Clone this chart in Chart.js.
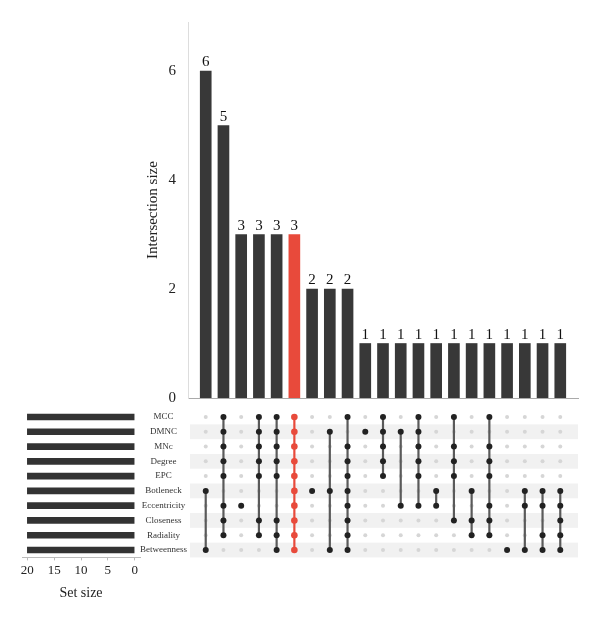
<!DOCTYPE html>
<html>
<head>
<meta charset="utf-8">
<script src="https://cdn.jsdelivr.net/npm/chart.js@4"></script>
<style>
body { margin: 0; background: #fff; }
#wrap { position: relative; width: 600px; height: 618px; }
canvas { position: absolute; }
</style>
</head>
<body>
<div id="wrap">
<canvas id="matrix" width="600" height="165" style="left:0;top:400px"></canvas>
<canvas id="bars" width="600" height="411" style="left:0;top:0"></canvas>
<canvas id="sets" width="200" height="210" style="left:0;top:400px"></canvas>
</div>
<script>
const sets = ['MCC', 'DMNC', 'MNc', 'Degree', 'EPC', 'Botleneck', 'Eccentricity', 'Closeness', 'Radiality', 'Betweenness'];
const setSizes = [20, 20, 20, 20, 20, 20, 20, 20, 20, 20];
const sizes = [6, 5, 3, 3, 3, 3, 2, 2, 2, 1, 1, 1, 1, 1, 1, 1, 1, 1, 1, 1, 1];
const combos = [
    ['Botleneck', 'Betweenness'],
    ['MCC', 'DMNC', 'MNc', 'Degree', 'EPC', 'Eccentricity', 'Closeness', 'Radiality'],
    ['Eccentricity'],
    ['MCC', 'DMNC', 'MNc', 'Degree', 'EPC', 'Closeness', 'Radiality'],
    ['MCC', 'DMNC', 'MNc', 'Degree', 'EPC', 'Closeness', 'Radiality', 'Betweenness'],
    ['MCC', 'DMNC', 'MNc', 'Degree', 'EPC', 'Botleneck', 'Eccentricity', 'Closeness', 'Radiality', 'Betweenness'],
    ['Botleneck'],
    ['DMNC', 'Botleneck', 'Betweenness'],
    ['MCC', 'MNc', 'Degree', 'EPC', 'Botleneck', 'Eccentricity', 'Closeness', 'Radiality', 'Betweenness'],
    ['DMNC'],
    ['MCC', 'DMNC', 'MNc', 'Degree', 'EPC'],
    ['DMNC', 'Eccentricity'],
    ['MCC', 'DMNC', 'MNc', 'Degree', 'EPC', 'Eccentricity'],
    ['Botleneck', 'Eccentricity'],
    ['MCC', 'MNc', 'Degree', 'EPC', 'Closeness'],
    ['Botleneck', 'Closeness', 'Radiality'],
    ['MCC', 'MNc', 'Degree', 'EPC', 'Eccentricity', 'Closeness', 'Radiality'],
    ['Betweenness'],
    ['Botleneck', 'Eccentricity', 'Betweenness'],
    ['Botleneck', 'Eccentricity', 'Radiality', 'Betweenness'],
    ['Botleneck', 'Eccentricity', 'Closeness', 'Radiality', 'Betweenness'],
];
const highlight = 5;
const ticksTop = [0, 2, 4, 6];
const ticksSet = [0, 5, 10, 15, 20];

const serif = "'Liberation Serif', 'DejaVu Serif', serif";
const dark = '#383838';
const red = '#e84a3b';

Chart.defaults.font.family = serif;
Chart.defaults.color = '#222';
Chart.defaults.animation = false;
Chart.defaults.plugins.legend.display = false;
Chart.defaults.plugins.tooltip.enabled = false;

// numbers above the bars
const barLabels = {
    id: 'barLabels',
    afterDatasetsDraw(chart) {
        const ctx = chart.ctx;
        ctx.save();
        ctx.font = '15px ' + serif;
        ctx.fillStyle = '#111';
        ctx.textAlign = 'center';
        ctx.textBaseline = 'bottom';
        chart.getDatasetMeta(0).data.forEach((bar, i) => {
            ctx.fillText(sizes[i], bar.x, bar.y - 1);
        });
        ctx.restore();
    },
};

new Chart(document.getElementById('bars'), {
    type: 'bar',
    data: {
        datasets: [
            {
                data: sizes.map((v, i) => ({ x: i, y: v })),
                backgroundColor: sizes.map((v, i) => (i === highlight ? red : dark)),
                barThickness: 11,
            },
        ],
    },
    options: {
        responsive: false,
        layout: { padding: { left: 140, right: 22, top: 22, bottom: 7 } },
        scales: {
            x: {
                type: 'linear',
                offset: false,
                min: -1,
                max: 21,
                ticks: { display: false },
                grid: { display: false },
                border: { color: '#aaa' },
                afterFit: (s) => {
                    s.height = 0;
                },
            },
            y: {
                min: 0,
                max: 6.9,
                afterBuildTicks: (s) => {
                    s.ticks = ticksTop.map((v) => ({ value: v }));
                },
                ticks: { padding: 4, font: { size: 15 } },
                grid: { display: false },
                border: { color: '#ddd' },
                title: { display: true, text: 'Intersection size', font: { size: 15 } },
                afterFit: (s) => {
                    s.width = 48;
                },
            },
        },
    },
    plugins: [barLabels],
});

// matrix of dots
const greyDots = [];
const onDots = [];
const redDots = [];
combos.forEach((c, i) => {
    sets.forEach((s, r) => {
        if (!c.includes(s)) greyDots.push({ x: i, y: r });
        else if (i === highlight) redDots.push({ x: i, y: r });
        else onDots.push({ x: i, y: r });
    });
});
const links = combos.map((c, i) => {
    const rows = c.map((s) => sets.indexOf(s));
    return {
        data: [
            { x: i, y: Math.min(...rows) },
            { x: i, y: Math.max(...rows) },
        ],
        showLine: true,
        borderColor: i === highlight ? red : '#5a5a5a',
        borderWidth: 2.2,
        pointRadius: 0,
        order: 1,
    };
});

const stripes = {
    id: 'stripes',
    beforeDatasetsDraw(chart) {
        const { ctx, chartArea, scales } = chart;
        ctx.save();
        ctx.fillStyle = '#f1f1f1';
        sets.forEach((s, r) => {
            if (r % 2 === 0) return;
            const a = scales.y.getPixelForValue(r - 0.5);
            const b = scales.y.getPixelForValue(r + 0.5);
            ctx.fillRect(chartArea.left + 2, Math.min(a, b), chartArea.right - chartArea.left - 2, Math.abs(b - a));
        });
        ctx.restore();
    },
};

new Chart(document.getElementById('matrix'), {
    type: 'scatter',
    data: {
        datasets: [
            { data: onDots, pointRadius: 3, backgroundColor: '#222', borderWidth: 0, order: 0 },
            { data: redDots, pointRadius: 3.3, backgroundColor: red, borderWidth: 0, order: 0 },
            ...links,
            { data: greyDots, pointRadius: 2, backgroundColor: '#d6d6d6', borderWidth: 0, order: 2 },
        ],
    },
    options: {
        responsive: false,
        layout: { padding: { left: 188, right: 22, top: 9.6, bottom: 7.6 } },
        scales: {
            x: { type: 'linear', min: -1, max: 21, display: false },
            y: { type: 'linear', min: -0.5, max: 9.5, reverse: true, display: false },
        },
    },
    plugins: [stripes],
});

// set sizes on the left
new Chart(document.getElementById('sets'), {
    type: 'bar',
    data: {
        labels: sets,
        datasets: [{ data: setSizes, backgroundColor: '#333', barThickness: 6 }],
    },
    options: {
        indexAxis: 'y',
        responsive: false,
        layout: { padding: { left: 22, right: 12, top: 9.6, bottom: 0 } },
        scales: {
            x: {
                min: -1,
                max: 21,
                reverse: true,
                afterBuildTicks: (s) => {
                    s.ticks = ticksSet.map((v) => ({ value: v }));
                },
                grid: { drawOnChartArea: false, tickLength: 3, color: '#bbb' },
                border: { color: '#bbb' },
                ticks: { font: { size: 13 }, padding: 2, maxRotation: 0 },
                title: { display: true, text: 'Set size', font: { size: 14 }, padding: { top: 0, bottom: 8 } },
                afterFit: (s) => {
                    s.height = 52.6;
                },
            },
            y: {
                position: 'right',
                grid: { display: false, drawTicks: false },
                border: { display: false },
                ticks: { crossAlign: 'center', font: { size: 9 }, color: '#333', padding: 0 },
                afterFit: (s) => {
                    s.width = 48;
                },
            },
        },
    },
});
</script>
</body>
</html>
